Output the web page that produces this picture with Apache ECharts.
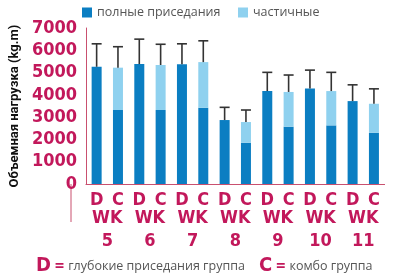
<!DOCTYPE html>
<html>
<head>
<meta charset="utf-8">
<script src="https://cdn.jsdelivr.net/npm/echarts@6/dist/echarts.min.js"></script>
<style>html,body{margin:0;padding:0;background:#fff}#c{width:400px;height:275px}</style>
</head>
<body>
<div id="c"></div>
<script>
const weeks = ['5', '6', '7', '8', '9', '10', '11'];
const groups = ['D', 'C'];
const yTicks = [0, 1000, 2000, 3000, 4000, 5000, 6000, 7000];
const dFull = [5260, 5380, 5370, 2870, 4170, 4290, 3720];
const dSD = [1030, 1120, 920, 570, 840, 820, 730];
const cFull = [3320, 3320, 3420, 1850, 2570, 2630, 2300];
const cPartial = [1900, 2020, 2050, 930, 1560, 1540, 1300];
const cSD = [940, 930, 955, 540, 760, 840, 670];

const RED = '#c2185b';
const AXIS = '#c9506f';
const DARK = '#0b7ec2';
const LIGHT = '#8fd1ef';
const NARROW = '"Liberation Sans Narrow", "DejaVu Sans Condensed", Roboto, sans-serif';

const cats = [];
const sFullD = [], sFullC = [], sPart = [], errs = [];
weeks.forEach((w, i) => {
  cats.push(groups[0], groups[1]);
  sFullD.push(dFull[i], '-');
  sFullC.push('-', cFull[i]);
  sPart.push('-', cPartial[i]);
  errs.push([2 * i, dFull[i], dFull[i] + dSD[i]]);
  errs.push([2 * i + 1, cFull[i] + cPartial[i], cFull[i] + cPartial[i] + cSD[i]]);
});

const chart = echarts.init(document.getElementById('c'));
chart.setOption({
  animation: false,
  grid: { left: 71, top: 28, width: 313.6, height: 156 },
  legend: [
    { data: ['полные приседания'], left: 77, top: 1, itemWidth: 10, itemHeight: 10, icon: 'rect', itemGap: 4,
      textStyle: { fontSize: 12.5, color: '#555', fontFamily: '"Open Sans", sans-serif' } },
    { data: ['частичные'], left: 233, top: 1, itemWidth: 10, itemHeight: 10, icon: 'rect',
      textStyle: { fontSize: 12.5, color: '#555', fontFamily: '"Open Sans", sans-serif' } }
  ],
  xAxis: [
    { type: 'category', data: cats, axisLine: { lineStyle: { color: AXIS, width: 1 } }, axisTick: { show: false },
      axisLabel: { color: RED, fontWeight: 'bold', fontSize: 18, fontFamily: NARROW, margin: 7, lineHeight: 19, interval: 0 } },
    { type: 'category', data: weeks, position: 'bottom', axisLine: { show: false }, axisTick: { show: false },
      axisLabel: { color: RED, fontWeight: 'bold', fontSize: 18, fontFamily: NARROW, margin: 23, lineHeight: 23, interval: 0,
        formatter: v => 'WK\n' + v } }
  ],
  yAxis: {
    type: 'value', min: yTicks[0], max: yTicks[yTicks.length - 1], interval: 1000,
    axisLine: { show: true, lineStyle: { color: AXIS, width: 1 } }, axisTick: { show: false }, splitLine: { show: false },
    axisLabel: { color: RED, fontWeight: 'bold', fontSize: 18, fontFamily: NARROW, margin: 9, formatter: v => String(v) },
    name: 'Объемная нагрузка (kg.m)', nameLocation: 'middle', nameRotate: 90, nameGap: 57,
    nameTextStyle: { color: '#111', fontWeight: 'bold', fontSize: 13, fontFamily: 'Roboto, sans-serif' }
  },
  series: [
    { name: 'полные приседания', type: 'bar', stack: 's', data: sFullD, barWidth: 10, itemStyle: { color: DARK } },
    { name: 'полные приседания', type: 'bar', stack: 's', data: sFullC, barWidth: 10, itemStyle: { color: DARK } },
    { name: 'частичные', type: 'bar', stack: 's', data: sPart, barWidth: 10, itemStyle: { color: LIGHT } },
    { type: 'custom', data: errs, z: 5, renderItem: (params, api) => {
        const x = api.value(0);
        const p0 = api.coord([x, api.value(1)]);
        const p1 = api.coord([x, api.value(2)]);
        const st = { stroke: '#333', lineWidth: 1.6 };
        return { type: 'group', children: [
          { type: 'line', shape: { x1: p0[0], y1: p0[1], x2: p1[0], y2: p1[1] }, style: st },
          { type: 'line', shape: { x1: p1[0] - 5, y1: p1[1], x2: p1[0] + 5, y2: p1[1] }, style: st }
        ] };
      } }
  ],
  graphic: [
    { type: 'text', left: 36, top: 256, style: {
        rich: { d: { fill: RED, fontWeight: 'bold', fontSize: 20, fontFamily: NARROW },
                e: { fill: RED, fontWeight: 'bold', fontSize: 14, fontFamily: NARROW },
                t: { fill: '#555', fontSize: 12.5, fontFamily: '"Open Sans", sans-serif' } },
        text: '{d|D} {e|=} {t|глубокие приседания группа}' } },
    { type: 'text', left: 259, top: 256, style: {
        rich: { d: { fill: RED, fontWeight: 'bold', fontSize: 20, fontFamily: NARROW },
                e: { fill: RED, fontWeight: 'bold', fontSize: 14, fontFamily: NARROW },
                t: { fill: '#555', fontSize: 12.5, fontFamily: '"Open Sans", sans-serif' } },
        text: '{d|C} {e|=} {t|комбо группа}' } }
  ]
});
const p0 = chart.convertToPixel({ xAxisIndex: 0, yAxisIndex: 0 }, [0, 0]);
chart.setOption({ graphic: [{}, {}, { type: 'line', shape: { x1: 71, y1: p0[1], x2: 71, y2: p0[1] + 38 }, style: { stroke: AXIS, lineWidth: 1 } }] });
</script>
</body>
</html>
